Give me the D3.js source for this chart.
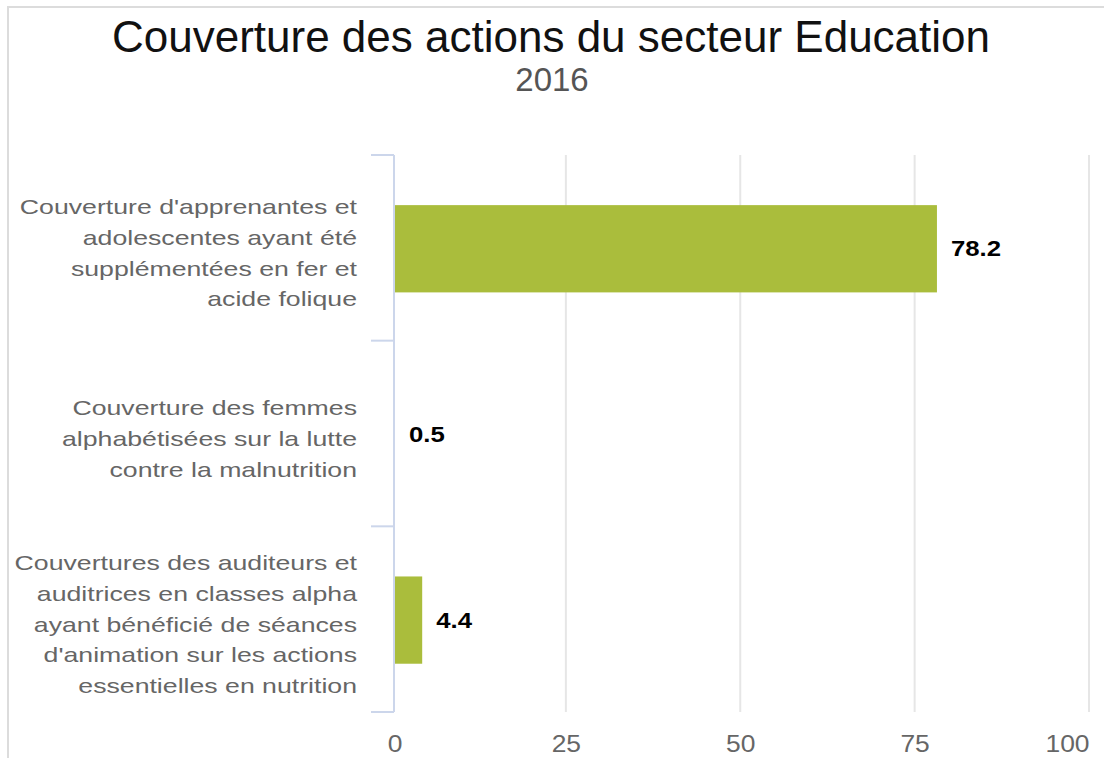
<!DOCTYPE html>
<html>
<head>
<meta charset="utf-8">
<script src="https://cdn.jsdelivr.net/npm/d3@7"></script>
<style>
  body { margin: 0; background: #fff; }
  svg { display: block; font-family: "Liberation Sans", Arial, sans-serif; }
</style>
</head>
<body>
<svg id="chart" width="1104" height="758"></svg>
<script>
// chart values
const title = "Couverture des actions du secteur Education";
const subtitle = "2016";
const categories = [
    ["Couverture d'apprenantes et", "adolescentes ayant été", "supplémentées en fer et", "acide folique"],
    ["Couverture des femmes", "alphabétisées sur la lutte", "contre la malnutrition"],
    ["Couvertures des auditeurs et", "auditrices en classes alpha", "ayant bénéficié de séances", "d'animation sur les actions", "essentielles en nutrition"]
];
const values = [78.2, 0.5, 4.4];
const xTicks = [0, 25, 50, 75, 100];

const svg = d3.select('#chart');
const W = 1104, H = 758;
const m = {top: 155, right: 15, bottom: 46, left: 391.5};
const axisX = 394;

// frame of the chart container (runs off the right/bottom edge)
svg.append('rect')
    .attr('x', 8).attr('y', 7)
    .attr('width', W + 20).attr('height', H + 20)
    .attr('fill', 'none').attr('stroke', '#dcdcdc').attr('stroke-width', 2);

const x = d3.scaleLinear().domain([0, 100]).range([m.left, W - m.right]);
const idx = categories.map((d, i) => i);
const y = d3.scaleBand().domain(idx).range([m.top, H - m.bottom]).padding(0);

// bars are clipped at the category axis
svg.append('defs').append('clipPath').attr('id', 'plot')
    .append('rect')
    .attr('x', axisX + 1).attr('y', m.top)
    .attr('width', W).attr('height', H - m.top - m.bottom);

svg.append('text')
    .attr('x', 551).attr('y', 52)
    .attr('text-anchor', 'middle')
    .attr('font-size', 44).attr('fill', '#111')
    .text(title);
svg.append('text')
    .attr('x', 552).attr('y', 91)
    .attr('text-anchor', 'middle')
    .attr('font-size', 33).attr('fill', '#555')
    .text(subtitle);

// grid
const g = svg.append('g');
g.selectAll('line.grid')
    .data(xTicks.slice(1))
    .enter().append('line')
    .attr('class', 'grid')
    .attr('x1', d => x(d)).attr('x2', d => x(d))
    .attr('y1', m.top).attr('y2', H - m.bottom)
    .attr('stroke', '#e6e6e6').attr('stroke-width', 2);

// bottom tick labels
const xAxis = g.append('g')
    .attr('transform', `translate(0,${H - m.bottom})`)
    .call(d3.axisBottom(x).tickValues(xTicks).tickSize(0).tickPadding(23));
xAxis.select('.domain').remove();
xAxis.selectAll('.tick').filter(d => d === 0).attr('transform', `translate(${axisX + 1},0)`);
xAxis.selectAll('text')
    .attr('font-size', 24).attr('fill', '#666')
    .attr('font-family', '"Liberation Sans", Arial, sans-serif')
    .attr('transform', 'scale(1.1,1)');
// last label kept inside the chart
xAxis.selectAll('text').filter(d => d === 100).attr('text-anchor', 'end');

// bars
const barOff = 0.27, barFrac = 0.47;
g.append('g').attr('clip-path', 'url(#plot)')
    .selectAll('rect.bar')
    .data(values)
    .enter().append('rect')
    .attr('class', 'bar')
    .attr('x', x(0))
    .attr('y', (d, i) => y(i) + y.bandwidth() * barOff)
    .attr('width', d => x(d) - x(0))
    .attr('height', y.bandwidth() * barFrac)
    .attr('fill', '#aabd3c');

// value labels
g.selectAll('text.val')
    .data(values)
    .enter().append('text')
    .attr('class', 'val')
    .attr('transform', (d, i) => `translate(${x(d) + 14},${y(i) + y.bandwidth() * (barOff + barFrac / 2)}) scale(1.17,1)`)
    .attr('dy', '0.35em')
    .attr('font-size', 22).attr('font-weight', 'bold')
    .attr('fill', '#000')
    .attr('stroke', '#fff').attr('stroke-width', 3).attr('paint-order', 'stroke')
    .attr('stroke-linejoin', 'round')
    .text(d => d);

// category axis
const yA = svg.append('g');
yA.append('line')
    .attr('x1', axisX).attr('x2', axisX)
    .attr('y1', m.top).attr('y2', H - m.bottom)
    .attr('stroke', '#ccd6eb').attr('stroke-width', 2);
const bounds = idx.map(i => y(i)).concat([H - m.bottom]);
yA.selectAll('line.tick')
    .data(bounds)
    .enter().append('line')
    .attr('class', 'tick')
    .attr('x1', axisX - 23).attr('x2', axisX)
    .attr('y1', d => d).attr('y2', d => d)
    .attr('stroke', '#ccd6eb').attr('stroke-width', 2);

const lh = 30.8;
const lab = yA.selectAll('text.cat')
    .data(categories)
    .enter().append('text')
    .attr('class', 'cat')
    .attr('text-anchor', 'end')
    .attr('font-size', 21).attr('fill', '#666')
    .attr('transform', (d, i) => `translate(357,${y(i) + y.bandwidth() / 2 - (d.length - 1) * lh / 2 + 5}) scale(1.27,1)`);
lab.selectAll('tspan')
    .data(d => d)
    .enter().append('tspan')
    .attr('x', 0)
    .attr('y', (d, j) => j * lh)
    .attr('dy', '0.35em')
    .text(d => d);
</script>
</body>
</html>
